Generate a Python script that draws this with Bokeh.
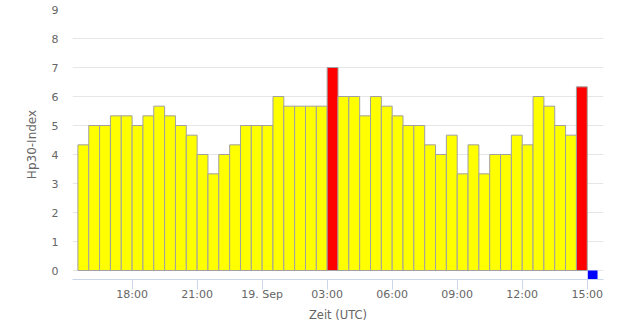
import pandas as pd
from bokeh.plotting import figure
from bokeh.models import ColumnDataSource, FixedTicker, CustomJSTickFormatter, Range1d
from bokeh.embed import file_html
from bokeh.resources import INLINE

# Hp30 index values, one per 30-minute interval starting 18 Sep 15:30 UTC
hp30 = [4.333, 5, 5, 5.333, 5.333, 5, 5.333, 5.667, 5.333, 5, 4.667, 4,
        3.333, 4, 4.333, 5, 5, 5, 6, 5.667, 5.667, 5.667, 5.667, 7,
        6, 6, 5.333, 6, 5.667, 5.333, 5, 5, 4.333, 4, 4.667, 3.333,
        4.333, 3.333, 4, 4, 4.667, 4.333, 6, 5.667, 5, 4.667, 6.333]
first_interval = "2023-09-18 15:30"
# pending (not yet available) interval marker
pending_interval = ["2023-09-19 15:00"]
pending_value = [-0.3]
tick_times = ["2023-09-18 18:00", "2023-09-18 21:00", "2023-09-19 00:00",
              "2023-09-19 03:00", "2023-09-19 06:00", "2023-09-19 09:00",
              "2023-09-19 12:00", "2023-09-19 15:00"]
y_ticks = [0, 1, 2, 3, 4, 5, 6, 7, 8, 9]

half = pd.Timedelta(minutes=30)
starts = pd.date_range(first_interval, periods=len(hp30), freq="30min")
centers = starts + half / 2
colors = ["#ff0000" if v > 6 else "#ffff00" for v in hp30]
src = ColumnDataSource(dict(x=centers, top=hp30, color=colors))

pstart = pd.to_datetime(pending_interval)
psrc = ColumnDataSource(dict(x=pstart + half / 2, bottom=pending_value,
                             top=[0.0] * len(pending_value)))

width_ms = half.total_seconds() * 1000

p = figure(width=626, height=329, output_backend="svg", toolbar_location=None,
           x_axis_type="datetime",
           x_range=Range1d(starts[0] - half / 2, pstart[-1] + half * 1.5),
           y_range=Range1d(-0.31, 9),
           min_border_left=72, min_border_right=23, min_border_top=9,
           min_border_bottom=50)
p.outline_line_color = None
p.background_fill_color = "white"
p.border_fill_color = "white"

p.vbar(x="x", top="top", bottom=0, width=width_ms, source=src,
       fill_color="color", line_color="#a0a0a0", line_width=1)
p.vbar(x="x", top="top", bottom="bottom", width=width_ms * 0.9, source=psrc,
       fill_color="#0000ff", line_color=None)

font = "DejaVu Sans"
tick_ms = [pd.Timestamp(t).value / 1e6 for t in tick_times]
xa = p.xaxis[0]
xa.ticker = FixedTicker(ticks=tick_ms)
xa.formatter = CustomJSTickFormatter(code="""
const d = new Date(tick);
const h = d.getUTCHours(), m = d.getUTCMinutes();
if (h === 0 && m === 0) {
  const mon = ['Jan','Feb','Mar','Apr','May','Jun','Jul','Aug','Sep','Oct','Nov','Dec'][d.getUTCMonth()];
  return d.getUTCDate() + '. ' + mon;
}
return String(h).padStart(2,'0') + ':' + String(m).padStart(2,'0');
""")
xa.axis_line_color = "#ccd6eb"
xa.major_tick_line_color = "#ccd6eb"
xa.major_tick_out = 10
xa.major_tick_in = 0
xa.minor_tick_line_color = None
xa.major_label_standoff = -2
xa.major_label_text_font = font
xa.major_label_text_font_size = "11px"
xa.major_label_text_color = "#666666"
xa.axis_label = "Zeit (UTC)"
xa.axis_label_text_font = font
xa.axis_label_text_font_size = "11.5px"
xa.axis_label_text_font_style = "normal"
xa.axis_label_text_color = "#666666"
xa.axis_label_standoff = 4

ya = p.yaxis[0]
ya.ticker = FixedTicker(ticks=y_ticks)
ya.axis_line_color = None
ya.major_tick_line_color = None
ya.minor_tick_line_color = None
ya.major_tick_out = 0
ya.major_tick_in = 0
ya.major_label_standoff = 14
ya.major_label_text_font = font
ya.major_label_text_font_size = "11px"
ya.major_label_text_color = "#666666"
ya.axis_label = "Hp30-Index"
ya.axis_label_text_font = font
ya.axis_label_text_font_size = "12px"
ya.axis_label_text_font_style = "normal"
ya.axis_label_text_color = "#666666"
ya.axis_label_standoff = 10

p.xgrid.grid_line_color = None
p.ygrid.grid_line_color = "#e6e6e6"
p.ygrid.ticker = FixedTicker(ticks=y_ticks)

open("out.html", "w").write(file_html(p, INLINE))
